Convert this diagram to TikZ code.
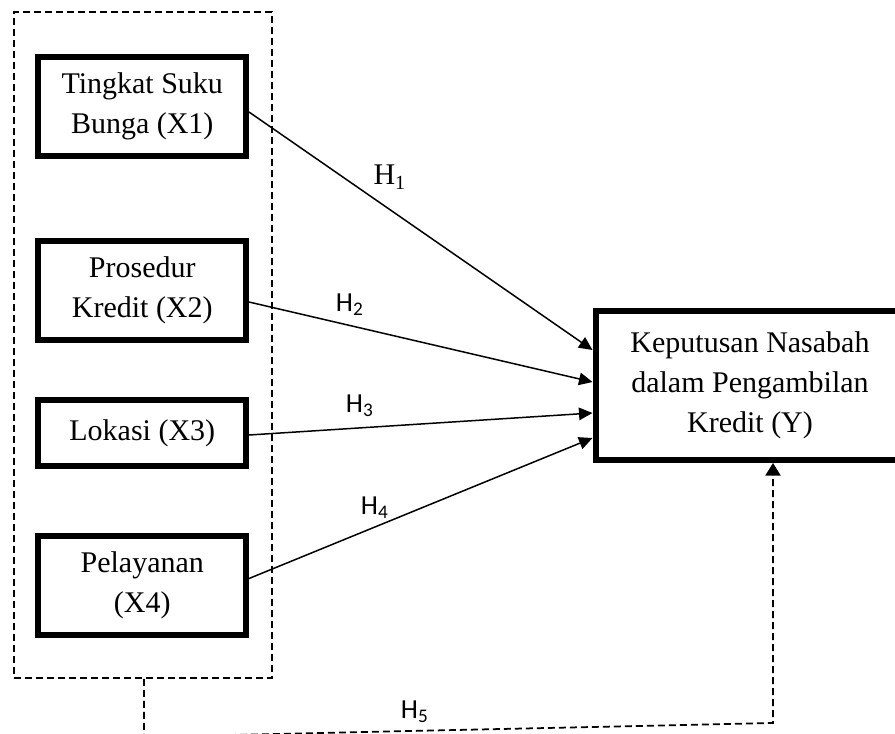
\documentclass[tikz,border=0pt]{standalone}
\usepackage{fontspec}
\setmainfont{Liberation Serif}
\newfontfamily\hypfont{Carlito}
\usetikzlibrary{arrows.meta,positioning,calc}

\begin{document}
\begin{tikzpicture}[x=0.4pt, y=-0.4pt,
    varbox/.style={draw, line width=2.4pt, minimum width=83pt, minimum height=39.4pt, align=center, inner sep=0pt, font=\fontsize{12}{16}\selectfont},
    groupbox/.style={draw, line width=0.7pt, dash pattern=on 2.8pt off 1.6pt, minimum width=103.2pt, minimum height=266.4pt},
    hyplink/.style={-{Triangle[length=5.4pt,width=5pt]}, line width=0.6pt},
    hyplabel/.style={inner sep=0pt, font=\hypfont\fontsize{11}{13}\selectfont}]
  \useasboundingbox (0,0) rectangle (895,734);
  \clip (0,0) rectangle (895,734);

  % variabel bebas
  \node[groupbox] (grp) at (143,345) {};
  \node[varbox] (x1) at (142.25,106.5) {Tingkat Suku\\Bunga (X1)};
  \node[varbox, below=31.8pt of x1] (x2) {Prosedur\\Kredit (X2)};
  \node[varbox, minimum height=26.6pt, below=21.6pt of x2] (x3) {Lokasi (X3)};
  \node[varbox, below=25.6pt of x3] (x4) {Pelayanan\\(X4)};

  % variabel terikat
  \node[varbox, minimum width=123.6pt, minimum height=59.6pt] (kep) at (750,385.5) {Keputusan Nasabah\\dalam Pengambilan\\Kredit (Y)};

  \draw[hyplink] ($(x1.east)+(0,5.5)$) -- ($(kep.west)+(0,-35.5)$);
  \draw[hyplink] ($(x2.east)+(0,11.5)$) -- ($(kep.west)+(0,-3.5)$);
  \draw[hyplink] ($(x3.east)+(0,2)$) -- ($(kep.west)+(0,27.5)$);
  \draw[hyplink] ($(x4.east)+(0,-7)$) -- ($(kep.west)+(0,52.5)$);
  \draw[-{Triangle[length=5pt,width=6pt]}, line width=0.7pt, dash pattern=on 2.8pt off 1.6pt] ($(grp.south)+(1,0)$) -- ++(0,58) -- ($(kep.south)+(23,260)$) -- ($(kep.south)+(23,0)$);

  \node[inner sep=0pt, font=\fontsize{12}{14}\selectfont] (h1) at (390,177) {H\textsubscript{1}};
  \node[hyplabel] (h2) at (350,305) {H\textsubscript{2}};
  \node[hyplabel] (h3) at (360,406) {H\textsubscript{3}};
  \node[hyplabel] (h4) at (375,508) {H\textsubscript{4}};
  \node[hyplabel] (h5) at (415,712) {H\textsubscript{5}};
\end{tikzpicture}
\end{document}
